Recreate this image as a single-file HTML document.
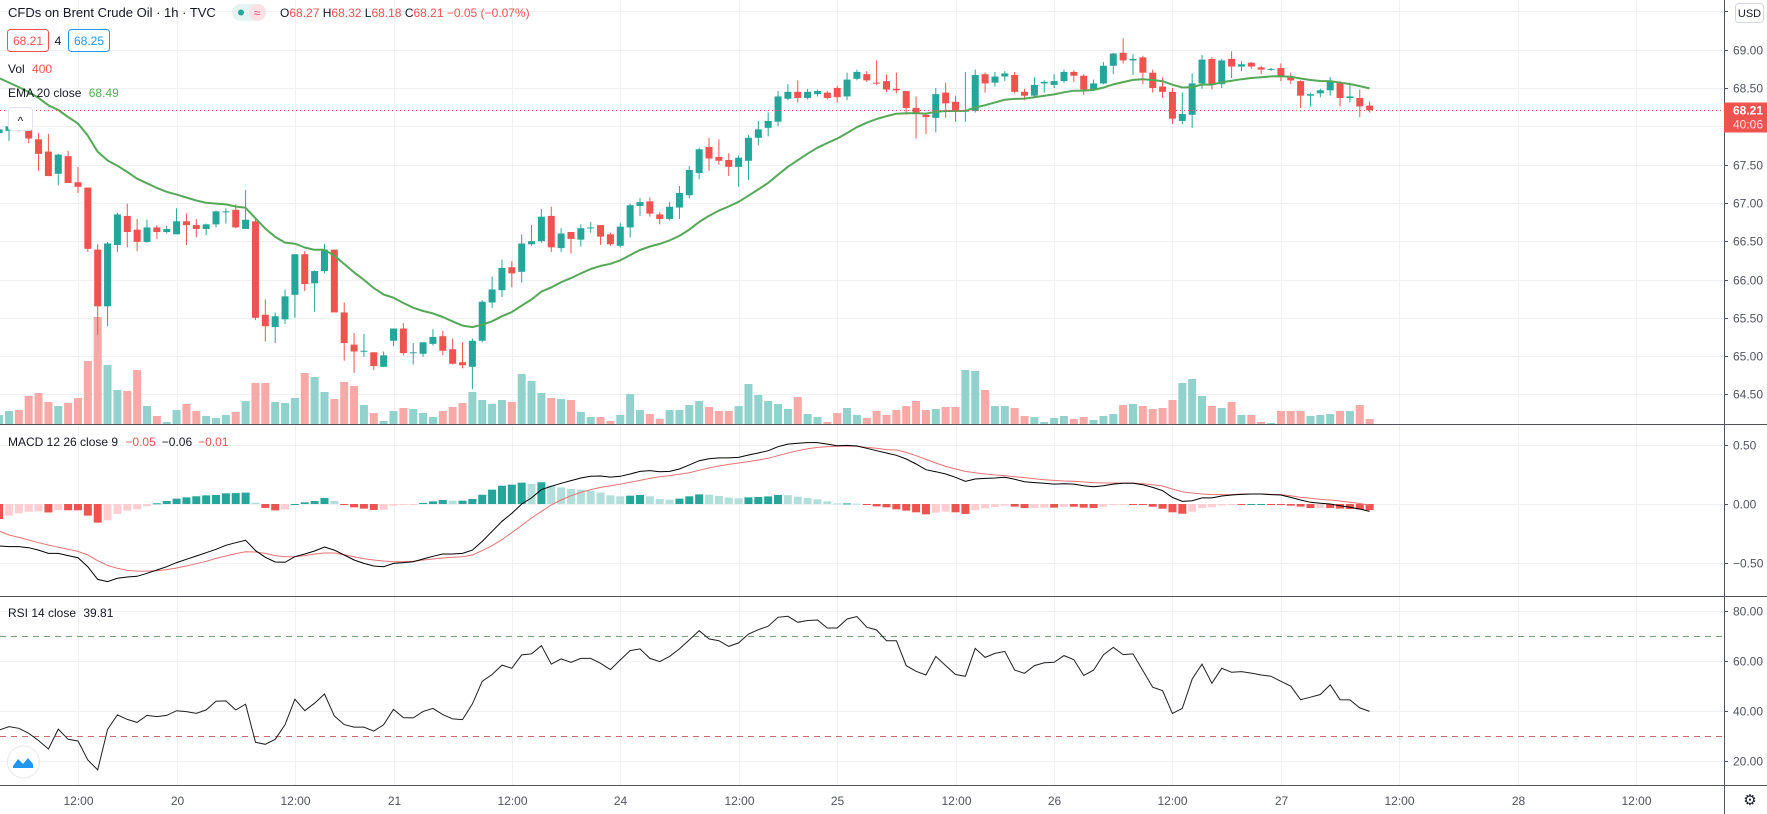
<!DOCTYPE html>
<html><head><meta charset="utf-8"><title>CFDs on Brent Crude Oil 1h</title>
<style>
html,body{margin:0;padding:0;background:#fff;}
body{width:1767px;height:814px;overflow:hidden;position:relative;font-family:"Liberation Sans",sans-serif;}
svg{position:absolute;left:0;top:0;}
svg text{font-family:"Liberation Sans",sans-serif;}
</style></head>
<body>
<svg id="chart" width="1767" height="814" viewBox="0 0 1767 814" xmlns="http://www.w3.org/2000/svg">
<defs>
<clipPath id="plotClip"><rect x="0" y="0" width="1724" height="786"/></clipPath>
</defs>
<rect x="0" y="0" width="1767" height="814" fill="#ffffff"/>
<g id="grid"></g>
<g id="volume" clip-path="url(#plotClip)"></g>
<g id="candles" clip-path="url(#plotClip)"></g>
<g id="ema" clip-path="url(#plotClip)"></g>
<g id="macd" clip-path="url(#plotClip)"></g>
<g id="rsi" clip-path="url(#plotClip)"></g>
<g id="axes"></g>
<g id="legend">
  <text x="8" y="17" font-size="13" fill="#131722">CFDs on Brent Crude Oil · 1h · TVC</text>
  <rect x="232" y="4" width="34" height="17" rx="8.5" fill="#e6f4f1"/>
  <rect x="249" y="4" width="17" height="17" rx="8.5" fill="#fbe0e6"/>
  <circle cx="241" cy="12.5" r="3" fill="#26a69a"/>
  <text x="257" y="17" font-size="12" fill="#e04f7a" text-anchor="middle">≈</text>
  <text x="280" y="17" font-size="12"><tspan fill="#131722">O</tspan><tspan fill="#ef5350">68.27 </tspan><tspan fill="#131722">H</tspan><tspan fill="#ef5350">68.32 </tspan><tspan fill="#131722">L</tspan><tspan fill="#ef5350">68.18 </tspan><tspan fill="#131722">C</tspan><tspan fill="#ef5350">68.21 −0.05 (−0.07%)</tspan></text>
  <rect x="7.5" y="29.5" width="41" height="22" rx="3" fill="#fff" stroke="#ef5350"/>
  <text x="28" y="45" font-size="12" fill="#ef5350" text-anchor="middle">68.21</text>
  <text x="58" y="45" font-size="12" fill="#131722" text-anchor="middle">4</text>
  <rect x="68.5" y="29.5" width="41" height="22" rx="3" fill="#fff" stroke="#2196f3"/>
  <text x="89" y="45" font-size="12" fill="#2196f3" text-anchor="middle">68.25</text>
  <text x="8" y="73" font-size="12" fill="#131722">Vol <tspan fill="#ef5350" dx="4">400</tspan></text>
  <text x="8" y="97" font-size="12" fill="#131722">EMA 20 close <tspan fill="#4caf50" dx="4">68.49</tspan></text>
  <rect x="8.5" y="107.5" width="24" height="23" rx="3" fill="#fff" stroke="#e0e3eb"/>
  <text x="20.5" y="125" font-size="12" fill="#131722" text-anchor="middle">^</text>
  <text x="8" y="446" font-size="12" fill="#131722">MACD 12 26 close 9 <tspan fill="#ef5350" dx="4">−0.05</tspan><tspan fill="#131722" dx="6">−0.06</tspan><tspan fill="#ef5350" dx="6">−0.01</tspan></text>
  <text x="8" y="617" font-size="12" fill="#131722">RSI 14 close <tspan fill="#131722" dx="4">39.81</tspan></text>
  <circle cx="23.5" cy="762" r="16" fill="#fff" stroke="#e8e8ec"/>
  <path d="M13 766 L18 759 L23 764 L28 758 L33 764 L33 768 L13 768 Z" fill="#2196f3"/>
</g>
<g id="rightAxis"></g>
<rect x="1735.5" y="3.5" width="28" height="19" rx="3" fill="#fff" stroke="#d1d4dc"/>
<text x="1749.5" y="17" font-size="11" fill="#131722" text-anchor="middle">USD</text>
<text x="1750" y="805" font-size="15" fill="#131722" text-anchor="middle">⚙</text>
</svg>
<script>
// ---- data ----
const opens = [67.91,67.94,67.99,67.96,67.83,67.67,67.38,67.61,67.27,67.20,
66.39,65.65,66.45,66.83,66.65,66.49,66.68,66.62,66.59,66.76,
66.71,66.66,66.72,66.88,66.91,66.66,66.76,65.54,65.38,65.48,
65.80,66.33,65.95,66.11,66.39,65.57,65.15,65.06,65.05,64.86,
65.20,65.36,65.04,65.03,65.16,65.26,65.09,64.92,64.86,65.20,
65.70,65.86,66.16,66.10,66.46,66.50,66.83,66.41,66.62,66.52,
66.67,66.71,66.59,66.44,66.68,66.96,67.02,66.85,66.79,66.94,
67.10,67.39,67.73,67.60,67.56,67.47,67.55,67.85,67.98,68.06,
68.36,68.45,68.37,68.42,68.44,68.50,68.39,68.62,68.68,68.57,
68.59,68.49,68.46,68.24,68.15,68.11,68.44,68.32,68.19,68.20,
68.68,68.57,68.65,68.67,68.45,68.40,68.56,68.54,68.59,68.71,
68.66,68.48,68.56,68.79,68.96,68.86,68.90,68.70,68.52,68.45,
68.07,68.15,68.56,68.88,68.55,68.88,68.78,68.83,68.77,68.74,
68.76,68.65,68.59,68.40,68.43,68.47,68.57,68.37,68.37,68.27];
const closes = [67.96,68.00,67.96,67.84,67.64,67.35,67.63,67.26,67.21,66.40,
65.65,66.47,66.85,66.62,66.49,66.68,66.62,66.66,66.76,66.71,
66.66,66.72,66.89,66.89,66.68,66.78,65.50,65.39,65.52,65.78,
66.33,65.94,66.11,66.39,65.57,65.17,65.06,65.07,64.87,65.01,
65.36,65.04,65.05,65.18,65.25,65.07,64.90,64.88,65.20,65.71,
65.87,66.15,66.08,66.47,66.50,66.82,66.42,66.60,66.53,66.67,
66.68,66.56,66.46,66.69,66.97,67.01,66.86,66.79,66.95,67.13,
67.43,67.70,67.58,67.55,67.47,67.59,67.85,67.96,68.07,68.39,
68.45,68.37,68.45,68.46,68.37,68.38,68.61,68.71,68.60,68.56,
68.48,68.47,68.24,68.16,68.12,68.42,68.30,68.20,68.21,68.67,
68.56,68.65,68.69,68.45,68.40,68.54,68.58,68.59,68.71,68.66,
68.48,68.56,68.79,68.95,68.86,68.88,68.70,68.50,68.45,68.10,
68.16,68.56,68.87,68.54,68.86,68.78,68.81,68.78,68.74,68.75,
68.66,68.60,68.40,68.42,68.47,68.58,68.37,68.39,68.26,68.21];
const highs = [67.98,68.04,68.02,68.00,67.91,67.90,67.64,67.68,67.47,67.20,
66.46,66.49,66.87,66.99,66.79,66.78,66.71,66.70,66.93,66.86,
66.79,66.73,66.90,66.93,66.98,67.17,66.80,65.74,65.57,65.87,
66.33,66.37,66.12,66.46,66.39,65.70,65.30,65.29,65.05,65.06,
65.36,65.43,65.17,65.18,65.35,65.33,65.23,65.18,65.23,65.73,
66.04,66.26,66.24,66.59,66.71,66.92,66.95,66.67,66.62,66.72,
66.75,66.71,66.61,66.74,66.99,67.06,67.07,66.88,67.01,67.22,
67.48,67.72,67.85,67.83,67.65,67.62,67.89,68.07,68.18,68.46,
68.55,68.60,68.49,68.48,68.46,68.53,68.70,68.74,68.72,68.86,
68.68,68.70,68.46,68.39,68.17,68.50,68.57,68.40,68.71,68.74,
68.70,68.71,68.72,68.71,68.49,68.64,68.60,68.68,68.74,68.73,
68.68,68.61,68.84,68.96,69.15,68.94,68.92,68.74,68.64,68.50,
68.44,68.69,68.93,68.90,68.88,68.98,68.85,68.84,68.79,68.76,
68.82,68.70,68.60,68.44,68.49,68.64,68.59,68.57,68.48,68.32];
const lows = [67.88,67.81,67.93,67.78,67.42,67.35,67.23,67.26,67.13,66.36,
65.28,65.39,66.36,66.42,66.37,66.48,66.53,66.60,66.59,66.45,
66.55,66.58,66.68,66.73,66.67,66.66,65.47,65.19,65.17,65.42,
65.50,65.85,65.58,66.08,65.57,64.94,64.78,64.99,64.82,64.86,
65.13,65.01,64.89,64.99,65.14,65.01,64.89,64.84,64.57,65.18,
65.63,65.77,65.90,65.96,66.44,66.48,66.36,66.36,66.34,66.43,
66.61,66.45,66.44,66.42,66.55,66.83,66.82,66.72,66.77,66.79,
67.06,67.31,67.42,67.50,67.35,67.21,67.30,67.75,67.87,68.00,
68.34,68.31,68.35,68.39,68.35,68.31,68.34,68.60,68.58,68.54,
68.45,68.43,68.15,67.84,67.90,67.92,68.11,68.06,68.06,68.18,
68.44,68.52,68.59,68.43,68.34,68.38,68.44,68.50,68.57,68.58,
68.41,68.46,68.55,68.68,68.82,68.67,68.55,68.44,68.37,68.03,
68.03,67.98,68.49,68.48,68.50,68.63,68.72,68.75,68.68,68.72,
68.59,68.55,68.24,68.26,68.38,68.40,68.26,68.31,68.12,68.18];
const volumes = [720,1040,1120,2240,2480,1760,1440,1680,2080,5040,
8560,4720,2720,2640,4320,1440,640,160,1120,1600,
1040,640,480,720,960,1840,3280,3280,1760,1680,
2080,4080,3760,2560,2000,3360,3040,1520,880,240,
1040,1280,1200,880,560,1040,1360,1680,2560,1920,
1600,1920,1760,4000,3440,2480,2080,2000,1920,960,
560,560,240,720,2400,1120,800,400,1120,1120,
1520,1840,1360,1040,1040,1440,3200,2320,1840,1600,
1200,2160,800,560,160,880,1280,720,480,1040,
720,1120,1440,1840,1120,1200,1360,1360,4320,4240,
2720,1440,1440,1280,640,560,160,480,640,400,
560,320,640,800,1520,1600,1440,1200,1280,1920,
3280,3600,2240,1440,1280,1760,720,720,160,80,
1040,1040,1040,640,720,800,1040,1040,1520,400];
const emaSeed = 68.63;
const macdLine = [-0.354,-0.359,-0.359,-0.368,-0.388,-0.416,-0.416,-0.435,-0.452,-0.528,
-0.635,-0.654,-0.626,-0.615,-0.609,-0.584,-0.556,-0.528,-0.494,-0.466,
-0.438,-0.410,-0.382,-0.348,-0.326,-0.306,-0.393,-0.449,-0.489,-0.491,
-0.444,-0.421,-0.396,-0.362,-0.388,-0.430,-0.472,-0.500,-0.522,-0.528,
-0.500,-0.494,-0.486,-0.463,-0.441,-0.421,-0.421,-0.416,-0.388,-0.315,
-0.230,-0.146,-0.079,0.000,0.051,0.121,0.149,0.174,0.197,0.219,
0.233,0.236,0.227,0.233,0.253,0.275,0.281,0.272,0.275,0.295,
0.329,0.365,0.382,0.388,0.388,0.393,0.413,0.430,0.449,0.483,
0.505,0.511,0.517,0.517,0.505,0.491,0.494,0.489,0.469,0.449,
0.430,0.410,0.379,0.337,0.289,0.272,0.253,0.225,0.191,0.211,
0.216,0.219,0.225,0.208,0.188,0.180,0.174,0.168,0.171,0.168,
0.154,0.146,0.154,0.168,0.174,0.174,0.163,0.140,0.112,0.056,
0.022,0.028,0.051,0.051,0.067,0.076,0.081,0.084,0.084,0.079,
0.076,0.056,0.034,0.014,0.006,0.000,-0.014,-0.028,-0.042,-0.062];
const signalLine = [-0.227,-0.261,-0.281,-0.303,-0.326,-0.345,-0.365,-0.382,-0.399,-0.430,
-0.478,-0.517,-0.542,-0.559,-0.565,-0.565,-0.562,-0.553,-0.539,-0.522,
-0.503,-0.483,-0.458,-0.438,-0.418,-0.402,-0.404,-0.416,-0.435,-0.444,
-0.444,-0.435,-0.421,-0.413,-0.413,-0.427,-0.444,-0.461,-0.472,-0.480,
-0.486,-0.486,-0.483,-0.472,-0.463,-0.455,-0.449,-0.444,-0.430,-0.393,
-0.351,-0.300,-0.242,-0.180,-0.118,-0.062,-0.008,0.034,0.070,0.098,
0.121,0.140,0.154,0.168,0.183,0.199,0.216,0.230,0.239,0.250,
0.264,0.284,0.303,0.320,0.334,0.345,0.357,0.371,0.385,0.407,
0.430,0.449,0.466,0.477,0.483,0.486,0.489,0.486,0.477,0.469,
0.458,0.455,0.435,0.407,0.376,0.345,0.317,0.295,0.275,0.264,
0.253,0.244,0.239,0.230,0.222,0.213,0.205,0.199,0.194,0.191,
0.185,0.180,0.177,0.177,0.177,0.177,0.171,0.163,0.152,0.126,
0.104,0.093,0.084,0.079,0.079,0.079,0.084,0.084,0.084,0.081,
0.079,0.070,0.056,0.048,0.039,0.034,0.025,0.014,0.004,-0.010];
const rsiValues = [32.3,33.7,33.0,31.0,28.1,24.7,32.7,28.6,27.9,20.3,
16.3,32.6,38.4,36.6,35.4,38.2,37.7,38.2,40.1,39.7,
39.0,40.4,43.9,44.0,40.4,42.7,27.4,26.6,28.6,34.4,
44.7,40.1,43.1,46.8,38.0,34.5,33.5,33.5,31.9,34.4,
40.6,37.3,37.2,39.8,41.0,38.5,36.8,36.5,42.8,51.9,
54.6,58.4,57.1,62.5,62.9,66.2,58.8,60.9,59.5,61.1,
61.1,59.1,56.6,60.5,64.2,64.9,61.1,59.8,61.9,64.9,
68.5,72.2,68.9,68.2,65.9,67.3,70.9,72.6,74.0,77.6,
78.0,75.6,76.3,76.5,73.3,73.3,76.9,77.9,73.6,72.5,
68.2,68.2,58.2,55.9,54.4,61.9,58.2,54.6,53.9,65.1,
61.5,63.1,63.9,56.4,55.1,58.2,59.3,59.5,62.2,60.6,
54.2,56.4,62.5,65.5,62.6,62.9,56.2,49.5,48.1,39.0,
41.0,52.8,58.8,51.1,57.1,55.5,55.8,55.2,54.4,53.9,
51.9,49.9,44.5,45.5,46.6,50.5,44.5,44.4,41.2,39.8];
const timeTickBars = [8,18,30,40,52,63,75,85,97,107,119,130,142,154,166];
const timeTickLabels = ["12:00","20","12:00","21","12:00","24","12:00","25","12:00","26","12:00","27","12:00","28","12:00"];
const priceTicks = [69.5,69.0,68.5,68.0,67.5,67.0,66.5,66.0,65.5,65.0,64.5];
const priceTickLabels = ["","69.00","68.50","68.00","67.50","67.00","66.50","66.00","65.50","65.00","64.50"];
const macdTicks = [0.5,0.0,-0.5];
const macdTickLabels = ["0.50","0.00","−0.50"];
const rsiTicks = [80,60,40,20];
const rsiTickLabels = ["80.00","60.00","40.00","20.00"];
const rsiBands = [70,30];
const lastPrice = 68.21;
const countdown = "40:06";

// ---- scales ----
const BAR = 9.86, X0 = -0.9, PLOT_R = 1724;
function xOf(i){ return X0 + BAR*i; }
function yPrice(p){ return 49.7 + (69 - p)*76.6; }
function yVol(v){ return 424 - v/80; }
function yMacd(v){ return 504 - v*118.7; }
function yRsi(v){ return 611.3 + (80 - v)*2.49; }

const NS = "http://www.w3.org/2000/svg";
function mk(tag, attrs, parent){
  const e = document.createElementNS(NS, tag);
  for (const k in attrs) e.setAttribute(k, attrs[k]);
  parent.appendChild(e);
  return e;
}
const grid = document.getElementById('grid');
const axes = document.getElementById('axes');
const rightAxis = document.getElementById('rightAxis');
const GRID = "#eef0f3";

// vertical grid + time labels
timeTickBars.forEach((b, k) => {
  const x = Math.round(xOf(b)) + 0.5;
  const l = mk('line', {x1:x, y1:0, x2:x, y2:786, stroke:GRID, 'stroke-width':1}, grid);
  
  
  const t = mk('text', {x:x, y:805, 'font-size':12, fill:'#50535e', 'text-anchor':'middle'}, axes);
  t.textContent = timeTickLabels[k];
  
  
});
// horizontal grid + price labels
function hTicks(ticks, labels, yFn, nm){
  ticks.forEach((v, k) => {
    const y = Math.round(yFn(v)) + 0.5;
    const l = mk('line', {x1:0, y1:y, x2:PLOT_R, y2:y, stroke:GRID, 'stroke-width':1}, grid);
    
    
    const tk = mk('line', {x1:PLOT_R, y1:y, x2:PLOT_R+4, y2:y, stroke:'#50535e', 'stroke-width':1}, rightAxis);
    
    
    if (labels[k]) {
      const t = mk('text', {x:1733, y:y+4, 'font-size':12, fill:'#50535e'}, rightAxis);
      t.textContent = labels[k];
      
      
    }
  });
}
hTicks(priceTicks, priceTickLabels, yPrice, 'price');
hTicks(macdTicks, macdTickLabels, yMacd, 'macd');
hTicks(rsiTicks, rsiTickLabels, yRsi, 'rsi');

// pane separators and axis lines
[[0,424.5,PLOT_R+43,424.5,'main-pane-separator'],[0,596.5,PLOT_R+43,596.5,'macd-pane-separator'],[0,785.5,PLOT_R+43,785.5,'time-axis-line'],[PLOT_R+0.5,0,PLOT_R+0.5,814,'price-axis-line']].forEach(s => {
  const l = mk('line', {x1:s[0], y1:s[1], x2:s[2], y2:s[3], stroke:'#50535e', 'stroke-width':1}, axes);
  
  
});

// volume
const volG = document.getElementById('volume');
volumes.forEach((v, i) => {
  const up = closes[i] >= opens[i];
  const y = yVol(v);
  const r = mk('rect', {x:xOf(i)-4, y:y, width:8, height:424-y, fill: up ? '#92d2cc' : '#f7a9a7'}, volG);
  
  
});

// candles
const cG = document.getElementById('candles');
closes.forEach((c, i) => {
  const o = opens[i], up = c >= o;
  const col = up ? '#26a69a' : '#ef5350';
  const x = xOf(i);
  const hi = Math.max(highs[i], o, c), lo = Math.min(lows[i], o, c);
  const w = mk('line', {x1:x, y1:yPrice(hi), x2:x, y2:yPrice(lo), stroke:col, 'stroke-width':1}, cG);
  
  
  const yt = yPrice(Math.max(o, c)), yb = yPrice(Math.min(o, c));
  const b = mk('rect', {x:x-3.5, y:yt, width:7, height:Math.max(1, yb-yt), fill:col}, cG);
  
  
});

// EMA 20 from closes
const emaG = document.getElementById('ema');
const alpha = 2/21;
let ema = emaSeed, pts = [];
closes.forEach((c, i) => {
  if (i > 0) ema = ema + alpha*(c - ema);
  pts.push(xOf(i).toFixed(1) + ',' + yPrice(ema).toFixed(1));
});
const emaPath = mk('polyline', {points:pts.join(' '), fill:'none', stroke:'#55a858', 'stroke-width':2, 'stroke-linejoin':'round'}, emaG);



// last price line + label
const lpY = Math.round(yPrice(lastPrice)) + 0.5;
const lpl = mk('line', {x1:0, y1:lpY, x2:PLOT_R, y2:lpY, stroke:'#ef5350', 'stroke-width':1, 'stroke-dasharray':'1,3'}, axes);


const lpb = mk('rect', {x:PLOT_R, y:lpY-8, width:43, height:30, fill:'#ef5350'}, rightAxis);


const lpt = mk('text', {x:1733, y:lpY+4, 'font-size':12, fill:'#ffffff', 'font-weight':'bold'}, rightAxis);
lpt.textContent = lastPrice.toFixed(2);


const cdt = mk('text', {x:1733, y:lpY+18, 'font-size':12, fill:'#fde0df'}, rightAxis);
cdt.textContent = countdown;



// MACD
const mG = document.getElementById('macd');
macdLine.forEach((m, i) => {
  const h = m - signalLine[i];
  const prev = i > 0 ? macdLine[i-1] - signalLine[i-1] : h;
  let col;
  if (h >= 0) col = h >= prev ? '#26a69a' : '#b2dfdb';
  else col = h <= prev ? '#ef5350' : '#ffcdd2';
  const y0 = yMacd(0), y1 = yMacd(h);
  const r = mk('rect', {x:xOf(i)-4, y:Math.min(y0, y1), width:8, height:Math.max(1, Math.abs(y1-y0)), fill:col}, mG);
  
  
});
const sigP = mk('polyline', {points:signalLine.map((v,i)=>xOf(i).toFixed(1)+','+yMacd(v).toFixed(1)).join(' '), fill:'none', stroke:'#e57373', 'stroke-width':1}, mG);


const macP = mk('polyline', {points:macdLine.map((v,i)=>xOf(i).toFixed(1)+','+yMacd(v).toFixed(1)).join(' '), fill:'none', stroke:'#000000', 'stroke-width':1}, mG);



// RSI
const rG = document.getElementById('rsi');
rsiBands.forEach((b, k) => {
  const y = Math.round(yRsi(b)) + 0.5;
  const l = mk('line', {x1:0, y1:y, x2:PLOT_R, y2:y, stroke: k === 0 ? '#6f9f6f' : '#c96b6b', 'stroke-width':1, 'stroke-dasharray':'6,5'}, rG);
  
  
});
const rsiP = mk('polyline', {points:rsiValues.map((v,i)=>xOf(i).toFixed(1)+','+yRsi(v).toFixed(1)).join(' '), fill:'none', stroke:'#1e1e1e', 'stroke-width':1}, rG);


</script>
</body></html>
